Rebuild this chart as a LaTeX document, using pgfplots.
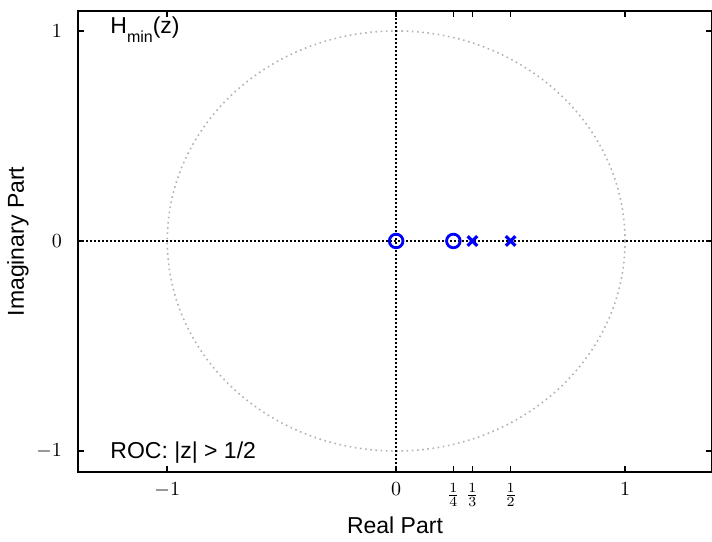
\documentclass[border=0pt]{standalone}
\usepackage{pgfplots}
\pgfplotsset{compat=1.18}
\usepackage{fontspec}
\setmainfont{Liberation Sans}
\begin{document}
\begin{tikzpicture}
\begin{axis}[
  scale only axis, width=317pt, height=230.5pt,
  xmin=-1.39, xmax=1.38, ymin=-1.1, ymax=1.095,
  axis line style={line width=0.8pt},
  xtick={-1,0,0.25,0.333333,0.5,1},
  xticklabels={$-1$,$0$,$\frac{1}{4}$,$\frac{1}{3}$,$\frac{1}{2}$,$1$},
  ytick={-1,0,1}, yticklabels={$-1$,$0$,$1$},
  tick align=inside, major tick length=3pt,
  tick style={line width=0.8pt, black},
  yticklabel style={xshift=-4.5pt},
  xticklabel style={yshift=-2pt},
  clip=false,
]
\draw[gray!60, line width=0.8pt, dash pattern=on 0.8pt off 1.8pt]
  (axis cs:0,0) ellipse [x radius=1, y radius=1];
\addplot[black, line width=0.8pt, dash pattern=on 0.8pt off 1.2pt] coordinates {(-1.39,0) (1.38,0)};
\addplot[black, line width=0.8pt, dash pattern=on 0.8pt off 1.2pt] coordinates {(0,-1.1) (0,1.095)};
\addplot[only marks, mark=o, blue, mark size=3.4pt, line width=1.4pt] coordinates {(0,0) (0.25,0)};
\addplot[only marks, mark=x, blue, mark size=3.4pt, line width=1.6pt] coordinates {(0.333333,0) (0.5,0)};
\node[anchor=base west, font=\fontsize{11.5}{13}\selectfont, inner sep=0pt] at (axis cs:-1.25,0.99)
  {H\raisebox{-4.5pt}{\fontsize{8}{9}\selectfont min}(z)};
\node[anchor=base west, font=\fontsize{11.5}{13}\selectfont, inner sep=0pt] at (axis cs:-1.25,-1.038)
  {ROC: |z| > 1/2};
\end{axis}
\node[anchor=base, font=\fontsize{11.5}{13}\selectfont, inner sep=0pt] at ([yshift=-30.5pt]current axis.south) {Real Part};
\node[anchor=base, rotate=90, font=\fontsize{11.5}{13}\selectfont, inner sep=0pt] at ([xshift=-27pt]current axis.west) {Imaginary Part};
\pgfresetboundingbox
\path[use as bounding box] ([shift={(-39pt,-34.5pt)}]current axis.south west) rectangle ++(356pt,270.5pt);
\end{tikzpicture}
\end{document}
